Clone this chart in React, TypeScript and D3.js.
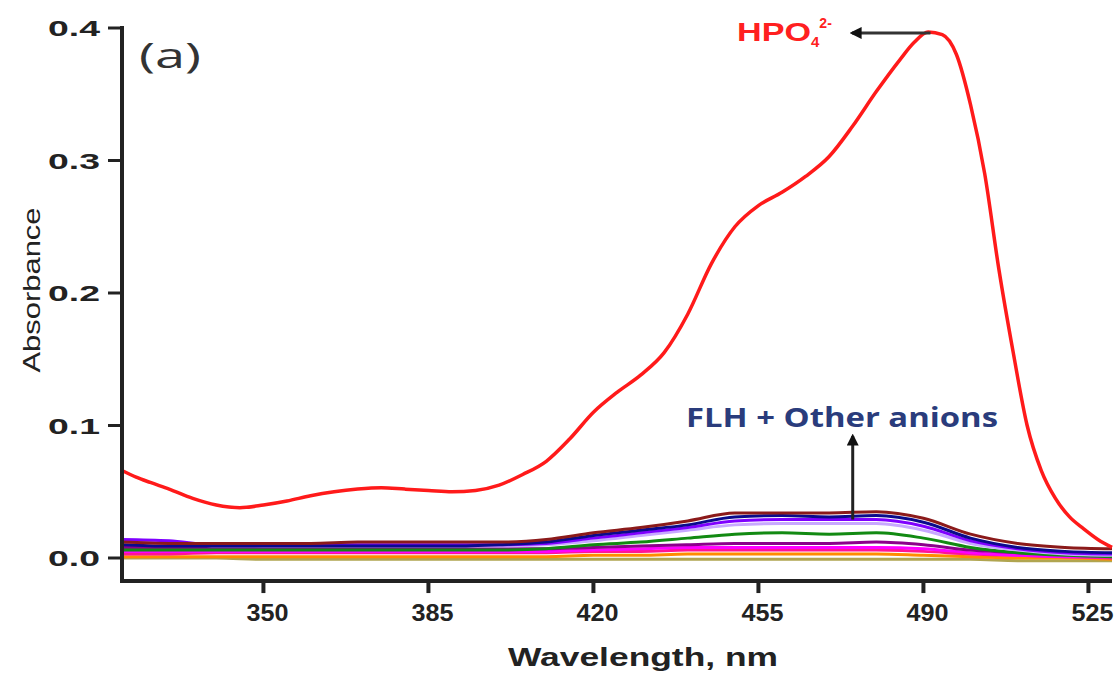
import React from 'react';
import * as d3 from 'd3';

// HPO4(2-) spectrum
const hpoWavelength = [320, 323, 326, 330, 335, 340, 345, 350, 355, 360, 365, 370, 375, 380, 385, 390, 395, 400, 405, 410, 415, 420, 425, 430, 435, 440, 445, 450, 455, 460, 465, 470, 475, 480, 485, 488, 491, 494, 497, 500, 503, 506, 509, 512, 515, 518, 521, 524, 527, 530];
const hpoAbsorbance = [0.066, 0.061, 0.057, 0.052, 0.045, 0.040, 0.038, 0.040, 0.043, 0.047, 0.050, 0.052, 0.053, 0.052, 0.051, 0.050, 0.051, 0.055, 0.063, 0.073, 0.090, 0.110, 0.125, 0.138, 0.155, 0.184, 0.222, 0.250, 0.266, 0.276, 0.288, 0.303, 0.326, 0.352, 0.376, 0.389, 0.397, 0.395, 0.380, 0.342, 0.290, 0.218, 0.156, 0.100, 0.066, 0.045, 0.031, 0.022, 0.014, 0.008];

// FLH + other anions, shared wavelength grid
const anionWavelength = [320, 330, 340, 350, 360, 370, 380, 390, 400, 410, 420, 430, 440, 450, 460, 470, 480, 490, 500, 510, 520, 530];
const olive = [0.000, 0.000, 0.000, -0.001, -0.001, -0.001, -0.001, -0.001, -0.001, -0.001, -0.001, -0.001, -0.001, -0.001, -0.001, -0.001, -0.001, -0.001, -0.001, -0.002, -0.002, -0.002];
const orange = [0.001, 0.001, 0.001, 0.001, 0.001, 0.001, 0.001, 0.001, 0.001, 0.001, 0.002, 0.002, 0.003, 0.003, 0.003, 0.003, 0.003, 0.002, 0.001, 0.000, 0.000, -0.001];
const deepPink = [0.003, 0.003, 0.004, 0.004, 0.004, 0.004, 0.004, 0.004, 0.004, 0.004, 0.005, 0.005, 0.006, 0.006, 0.006, 0.006, 0.006, 0.005, 0.003, 0.002, 0.001, 0.000];
const magenta = [0.005, 0.005, 0.005, 0.005, 0.005, 0.005, 0.005, 0.005, 0.005, 0.005, 0.006, 0.007, 0.008, 0.008, 0.008, 0.008, 0.008, 0.007, 0.004, 0.002, 0.001, 0.001];
const purple = [0.008, 0.008, 0.008, 0.007, 0.007, 0.007, 0.007, 0.007, 0.007, 0.007, 0.008, 0.009, 0.010, 0.011, 0.011, 0.011, 0.012, 0.010, 0.006, 0.004, 0.003, 0.002];
const green = [0.006, 0.006, 0.006, 0.006, 0.006, 0.006, 0.006, 0.006, 0.006, 0.007, 0.010, 0.012, 0.015, 0.018, 0.019, 0.018, 0.019, 0.015, 0.008, 0.004, 0.002, 0.001];
const lavender = [0.012, 0.012, 0.009, 0.009, 0.009, 0.009, 0.009, 0.009, 0.009, 0.010, 0.013, 0.017, 0.021, 0.025, 0.026, 0.026, 0.026, 0.021, 0.011, 0.006, 0.003, 0.002];
const violet = [0.014, 0.013, 0.010, 0.010, 0.010, 0.010, 0.010, 0.010, 0.010, 0.011, 0.015, 0.019, 0.023, 0.028, 0.029, 0.029, 0.029, 0.024, 0.013, 0.007, 0.004, 0.003];
const navy = [0.010, 0.009, 0.009, 0.009, 0.009, 0.009, 0.009, 0.009, 0.010, 0.012, 0.017, 0.021, 0.025, 0.031, 0.032, 0.031, 0.032, 0.027, 0.015, 0.008, 0.005, 0.004];
const brown = [0.012, 0.011, 0.011, 0.011, 0.011, 0.012, 0.012, 0.012, 0.012, 0.014, 0.019, 0.023, 0.028, 0.034, 0.034, 0.034, 0.035, 0.030, 0.018, 0.011, 0.008, 0.007];

const anionSeries = [olive, orange, deepPink, magenta, purple, green, lavender, violet, navy, brown];
const anionColors = ['#b0a550', '#ff8c00', '#ff1493', '#ff00ff', '#8b008b', '#128a12', '#c8a8ff', '#7f00ff', '#0a0a8c', '#8b1a1a'];

const xTicks = [350, 385, 420, 455, 490, 525];
const yTicks = [0, 0.1, 0.2, 0.3, 0.4];
const yTickLabels = ['0.0', '0.1', '0.2', '0.3', '0.4'];

export default function App() {
    const width = 1120;
    const height = 673;

    const x = d3.scaleLinear().domain([320, 530]).range([122, 1112]);
    const y = d3.scaleLinear().domain([0, 0.4]).range([558, 28]);
    const axisY = y(-0.0174);
    const axisX = x(320);

    const line = d3.line<[number, number]>()
        .x(d => x(d[0]))
        .y(d => y(d[1]))
        .curve(d3.curveMonotoneX);

    const hpoPath = line(hpoWavelength.map((w, i) => [w, hpoAbsorbance[i]]));

    const peakX = x(491.5);
    const peakY = y(0.397);

    return (
        <svg width={width} height={height} style={{ position: 'absolute', left: 0, top: 0, background: '#fff' }}>
            <defs>
                <marker id="head" viewBox="0 0 10 10" refX="8" refY="5" markerWidth="4" markerHeight="4" orient="auto-start-reverse">
                    <path d="M0,0 L10,5 L0,10 z" fill="#111" />
                </marker>
            </defs>

            {/* other anions */}
            {anionSeries.map((s, i) => (
                <path key={i}
                    d={line(anionWavelength.map((w, j) => [w, s[j]])) || ''}
                    fill="none" stroke={anionColors[i]} strokeWidth={3} />
            ))}

            {/* HPO4 */}
            <path d={hpoPath || ''} fill="none" stroke="#ff1a1a" strokeWidth={3.5} />

            {/* axes */}
            <line x1={axisX} x2={axisX} y1={26} y2={axisY + 2} stroke="#222" strokeWidth={4} />
            <line x1={axisX - 2} x2={x(530)} y1={axisY} y2={axisY} stroke="#222" strokeWidth={4} />

            {yTicks.map((t, i) => (
                <g key={t}>
                    <line x1={axisX - 14} x2={axisX} y1={y(t)} y2={y(t)} stroke="#222" strokeWidth={3} />
                    <text x={100} y={y(t) + 8} textAnchor="end" fontFamily="Liberation Sans, Arial, sans-serif"
                        fontWeight="bold" fontSize={22} fill="#222" textLength={52} lengthAdjust="spacingAndGlyphs">
                        {yTickLabels[i]}
                    </text>
                </g>
            ))}

            {xTicks.map(t => (
                <g key={t}>
                    <line x1={x(t)} x2={x(t)} y1={axisY} y2={axisY + 12} stroke="#222" strokeWidth={4} />
                    <text x={x(t) + 4} y={621} textAnchor="middle" fontFamily="Liberation Sans, Arial, sans-serif"
                        fontWeight="bold" fontSize={23} fill="#222" textLength={42} lengthAdjust="spacingAndGlyphs">
                        {t}
                    </text>
                </g>
            ))}

            <text x={643} y={666} textAnchor="middle" fontFamily="Liberation Sans, Arial, sans-serif"
                fontWeight="bold" fontSize={25} fill="#222" textLength={270} lengthAdjust="spacingAndGlyphs">
                Wavelength, nm
            </text>
            <text transform="translate(40,290) rotate(-90)" textAnchor="middle" fontFamily="Liberation Sans, Arial, sans-serif"
                fontSize={24} fill="#222" textLength={165} lengthAdjust="spacingAndGlyphs">
                Absorbance
            </text>

            <text x={139} y={68} fontFamily="Open Sans, sans-serif" fontSize={34} fill="#333"
                textLength={62} lengthAdjust="spacingAndGlyphs">(a)</text>

            {/* HPO4 label */}
            <text x={737} y={41} fontFamily="Liberation Sans, Arial, sans-serif" fontWeight="bold" fontSize={25} fill="#ff2020">
                <tspan textLength={74} lengthAdjust="spacingAndGlyphs">HPO</tspan>
                <tspan fontSize={15} dy={6}>4</tspan>
                <tspan fontSize={14} dy={-19}>2-</tspan>
            </text>
            <line x1={peakX} x2={852} y1={peakY + 1} y2={peakY + 1} stroke="#333" strokeWidth={3} markerEnd="url(#head)" />

            {/* FLH + Other anions */}
            <text x={686} y={427} fontFamily="Open Sans, sans-serif" fontWeight="bold" fontSize={26} fill="#2a3c7c"
                textLength={312} lengthAdjust="spacingAndGlyphs">
                FLH + Other anions
            </text>
            <line x1={x(475)} x2={x(475)} y1={y(0.029)} y2={436} stroke="#222" strokeWidth={3} markerEnd="url(#head)" />
        </svg>
    );
}
